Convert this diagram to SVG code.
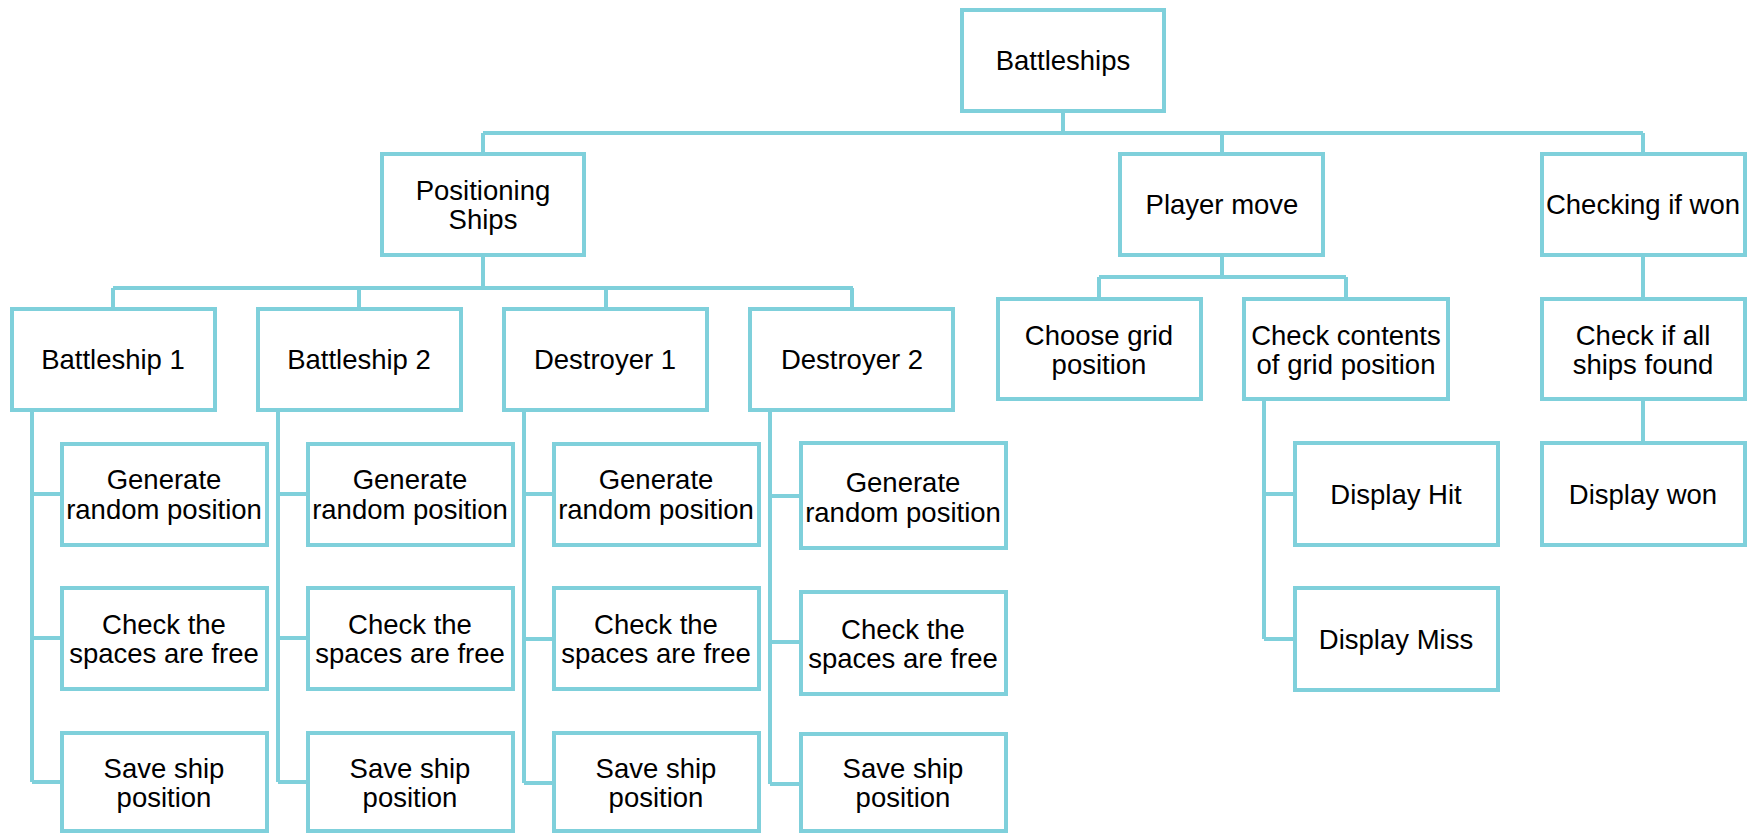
<svg xmlns="http://www.w3.org/2000/svg" width="1756" height="833" viewBox="0 0 1756 833">
<style>
.b{fill:#fff;stroke:#7fd0db;stroke-width:4}
.c{fill:none;stroke:#7fd0db;stroke-width:4}
text{font-family:"Liberation Sans",Arial,sans-serif;font-size:27.5px;fill:#000;text-anchor:middle}
</style>
<rect width="1756" height="833" fill="#fff"/>
<g id="connectors" class="c">
<path d="M1063,111V133M483,133H1643M483,133V154M1222,133V154M1643,133V154"/>
<path d="M483,255V288M113,288H853M113,288V309M359,288V309M606,288V309M852,288V309"/>
<path d="M32,410V782M32,494H62M32,638H62M32,782H62"/>
<path d="M278,410V782M278,494H308M278,638H308M278,782H308"/>
<path d="M524,410V783M524,494H554M524,639H554M524,783H554"/>
<path d="M770,410V784M770,496H801M770,642H801M770,784H801"/>
<path d="M1222,255V277M1099,277H1346M1099,277V299M1346,277V299"/>
<path d="M1264,399V639M1264,494H1295M1264,639H1295"/>
<path d="M1643,255V299M1643,399V443"/>
</g>
<g id="n-battleships"><rect class="b" x="962" y="10" width="202" height="101"/><text x="1063" y="70">Battleships</text></g>
<g id="n-positioning"><rect class="b" x="382" y="154" width="202" height="101"/><text x="483" y="200">Positioning</text><text x="483" y="229">Ships</text></g>
<g id="n-player"><rect class="b" x="1120" y="154" width="203" height="101"/><text x="1222" y="214">Player move</text></g>
<g id="n-checking"><rect class="b" x="1542" y="154" width="203" height="101"/><text x="1643" y="214">Checking if won</text></g>
<g id="n-b1"><rect class="b" x="12" y="309" width="203" height="101"/><text x="113" y="369">Battleship 1</text></g>
<g id="n-b2"><rect class="b" x="258" y="309" width="203" height="101"/><text x="359" y="369">Battleship 2</text></g>
<g id="n-d1"><rect class="b" x="504" y="309" width="203" height="101"/><text x="605" y="369">Destroyer 1</text></g>
<g id="n-d2"><rect class="b" x="750" y="309" width="203" height="101"/><text x="852" y="369">Destroyer 2</text></g>
<g id="n-b1-gen"><rect class="b" x="62" y="444" width="205" height="101"/><text x="164" y="489">Generate</text><text x="164" y="519">random position</text></g>
<g id="n-b1-chk"><rect class="b" x="62" y="588" width="205" height="101"/><text x="164" y="634">Check the</text><text x="164" y="663">spaces are free</text></g>
<g id="n-b1-sav"><rect class="b" x="62" y="733" width="205" height="98"/><text x="164" y="778">Save ship</text><text x="164" y="807">position</text></g>
<g id="n-b2-gen"><rect class="b" x="308" y="444" width="205" height="101"/><text x="410" y="489">Generate</text><text x="410" y="519">random position</text></g>
<g id="n-b2-chk"><rect class="b" x="308" y="588" width="205" height="101"/><text x="410" y="634">Check the</text><text x="410" y="663">spaces are free</text></g>
<g id="n-b2-sav"><rect class="b" x="308" y="733" width="205" height="98"/><text x="410" y="778">Save ship</text><text x="410" y="807">position</text></g>
<g id="n-d1-gen"><rect class="b" x="554" y="444" width="205" height="101"/><text x="656" y="489">Generate</text><text x="656" y="519">random position</text></g>
<g id="n-d1-chk"><rect class="b" x="554" y="588" width="205" height="101"/><text x="656" y="634">Check the</text><text x="656" y="663">spaces are free</text></g>
<g id="n-d1-sav"><rect class="b" x="554" y="733" width="205" height="98"/><text x="656" y="778">Save ship</text><text x="656" y="807">position</text></g>
<g id="n-d2-gen"><rect class="b" x="801" y="443" width="205" height="105"/><text x="903" y="492">Generate</text><text x="903" y="522">random position</text></g>
<g id="n-d2-chk"><rect class="b" x="801" y="592" width="205" height="102"/><text x="903" y="639">Check the</text><text x="903" y="668">spaces are free</text></g>
<g id="n-d2-sav"><rect class="b" x="801" y="734" width="205" height="97"/><text x="903" y="778">Save ship</text><text x="903" y="807">position</text></g>
<g id="n-choose"><rect class="b" x="998" y="299" width="203" height="100"/><text x="1099" y="345">Choose grid</text><text x="1099" y="374">position</text></g>
<g id="n-contents"><rect class="b" x="1244" y="299" width="204" height="100"/><text x="1346" y="345">Check contents</text><text x="1346" y="374">of grid position</text></g>
<g id="n-hit"><rect class="b" x="1295" y="443" width="203" height="102"/><text x="1396" y="504">Display Hit</text></g>
<g id="n-miss"><rect class="b" x="1295" y="588" width="203" height="102"/><text x="1396" y="649">Display Miss</text></g>
<g id="n-allfound"><rect class="b" x="1542" y="299" width="203" height="100"/><text x="1643" y="345">Check if all</text><text x="1643" y="374">ships found</text></g>
<g id="n-won"><rect class="b" x="1542" y="443" width="203" height="102"/><text x="1643" y="504">Display won</text></g>
</svg>
